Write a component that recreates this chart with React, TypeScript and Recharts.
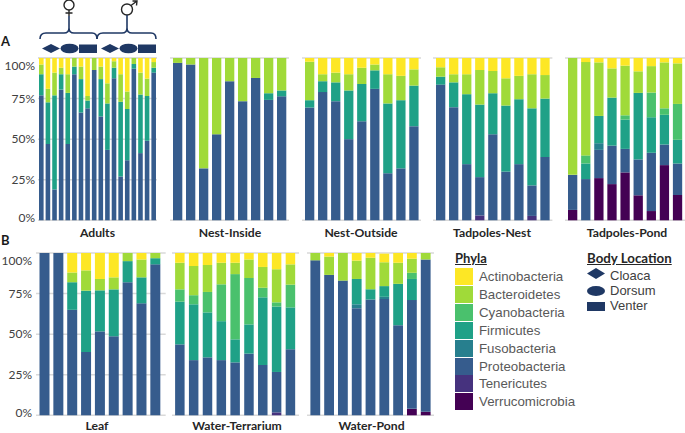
import { BarChart, Bar, CartesianGrid, XAxis, YAxis } from "recharts";

const phyla = [
  "Actinobacteria",
  "Bacteroidetes",
  "Cyanobacteria",
  "Firmicutes",
  "Fusobacteria",
  "Proteobacteria",
  "Tenericutes",
  "Verrucomicrobia"
];
const phylaColors = ["#FDE725", "#A0DA39", "#4AC16D", "#1FA187", "#277F8E", "#365C8D", "#46327E", "#440154"];
const bodyLocations = ["Cloaca", "Dorsum", "Venter"];
const percentTicks = [0, 25, 50, 75, 100];

// segment sizes in percent, one array per phylum per panel
const adultsProteo = [77, 47, 19, 80.5, 47, 90, 66.4, 69, 92.6, 64, 43.4, 87.5, 27, 37, 93.4, 41.4, 49, 91];
const adultsFirm = [13, 25.7, 58, 9.5, 31.5, 4.7, 20.6, 4.8, 0, 23, 28.6, 6.5, 46, 31.6, 2.9, 36.1, 27.6, 3];
const adultsBact = [6, 8.3, 14, 4, 11.5, 5.3, 7.7, 2.8, 7.4, 7.7, 12.4, 4, 17, 10.7, 3.7, 13.5, 10.7, 3.5];
const adultsActino = [4, 19, 9, 6, 10, 0, 5.3, 23.4, 0, 5.3, 15.6, 2, 10, 20.7, 0, 9, 12.7, 2.5];

const insideProteo = [97, 96, 32, 53, 85.7, 73.4, 87.7, 74.2, 76.4];
const insideFirm = [0, 0, 0, 0, 0, 0, 0, 4.1, 3.6];
const insideBact = [3, 4, 68, 47, 14.3, 26.6, 12.3, 21.7, 20];

const outsideProteo = [69.5, 79, 73.4, 50, 61, 81, 29, 32, 58];
const outsideFirm = [4.5, 6.7, 11.6, 30, 23, 11.4, 43, 42, 25];
const outsideBact = [23.7, 4.3, 6, 10, 10, 3.6, 18, 15, 10];
const outsideActino = [2.3, 10, 9, 10, 6, 4, 10, 11, 7];

const tadNestTener = [0, 0, 0, 3, 0, 0, 0, 2.7, 0];
const tadNestProteo = [83.6, 69.7, 34.6, 23.6, 53, 30, 34.6, 18.8, 39];
const tadNestFirm = [4.9, 15.3, 43.1, 44.7, 25.3, 40.7, 40, 47.5, 36];
const tadNestBact = [5.8, 5, 12.3, 21.3, 13.7, 16.8, 14.4, 21, 14.5];
const tadNestActino = [5.7, 10, 10, 7.4, 8, 12.5, 11, 10, 10.5];

const tadPondVerruco = [6.4, 0, 26, 22.3, 29.5, 15.4, 5.7, 34, 15.6];
const tadPondProteo = [21.6, 25.4, 17.4, 23.7, 14.5, 22.1, 35.9, 12.7, 19.4];
const tadPondFuso = [0, 0, 4.1, 0, 0, 0, 0, 0, 0];
const tadPondFirm = [0, 9.6, 16.8, 29.6, 18, 41, 21.9, 18.3, 14.6];
const tadPondCyano = [0, 5, 0, 0, 2.7, 0, 15.2, 4, 22.1];
const tadPondBact = [72, 57.5, 33, 18, 30.6, 13.3, 16.3, 28.3, 25];
const tadPondActino = [0, 2.5, 2.7, 6.4, 4.7, 8.2, 5, 2.7, 3.3];

const leafProteo = [100, 100, 65, 39, 51.7, 48.7, 82, 69, 93];
const leafFirm = [0, 0, 17, 37.8, 25.3, 28.9, 13, 16, 3.8];
const leafBact = [0, 0, 6, 12.5, 7, 7.4, 5, 11, 3.2];
const leafActino = [0, 0, 12, 10.7, 16, 15, 0, 4, 0];

const terrTener = [0, 0, 0, 0, 0, 0, 0, 1.8, 0];
const terrProteo = [43.7, 34, 35.7, 34, 32.6, 38, 31, 24.9, 40.7];
const terrFirm = [26.3, 34.4, 27.7, 24, 14.2, 18, 41.7, 40.3, 25.8];
const terrCyano = [7.6, 5.6, 12.6, 22.7, 40.2, 28.6, 5.9, 2.6, 14];
const terrBact = [16.4, 18, 16.6, 13.3, 7, 11.4, 12.8, 20.4, 12.5];
const terrActino = [6, 8, 7.4, 6, 6, 4, 8.6, 10, 7];

const pondVerruco = [0, 0, 0, 0, 0, 0, 0, 4, 2.2];
const pondProteo = [95.5, 86.5, 83, 66, 71.4, 71.6, 55.5, 67, 93.8];
const pondFuso = [0, 0, 0, 2.4, 0, 1.4, 0, 0, 0];
const pondFirm = [0, 0, 0, 15.6, 6.2, 6.6, 25.5, 13, 0];
const pondCyano = [0, 0, 0, 0, 0, 0, 0, 3.8, 0];
const pondBact = [4.5, 11.3, 17, 11.3, 19.4, 14.7, 13, 8.7, 4];
const pondActino = [0, 2.2, 0, 4.7, 3, 5.3, 6, 3.5, 0];

function buildRows(series: Record<string, number[]>) {
  const count = Object.values(series)[0].length;
  const rows = [];
  for (let i = 0; i < count; i++) {
    const row: Record<string, number | string> = { sample: `s${i + 1}` };
    phyla.forEach((name) => {
      row[name] = series[name] ? series[name][i] : 0;
    });
    rows.push(row);
  }
  return rows;
}

const NAVY = "#1F3864";
const TITLE_FONT = "Lato, sans-serif";
const LEGEND_FONT = "'Liberation Sans', Arial, sans-serif";

// the labels at both ends of the axis sit inside the plot in the original
function PercentTick({ y, payload, right }: any) {
  const shift = payload.value === 100 ? 8 : payload.value === 0 ? -2 : 0;
  return (
    <text x={right} y={y + shift} dy={4} textAnchor="end" fontFamily={TITLE_FONT} fontSize={12} fill="#404040">
      {payload.value}%
    </text>
  );
}

type PanelProps = {
  left: number;
  top: number;
  width: number;
  height: number;
  barSize: number;
  padding: { left: number; right: number };
  series: Record<string, number[]>;
  axisWidth?: number;
  tickRight?: number;
};

function Panel({ left, top, width, height, barSize, padding, series, axisWidth = 0, tickRight = 0 }: PanelProps) {
  return (
    <div style={{ position: "absolute", left: left - axisWidth, top: top - 8 }}>
      <BarChart
        width={width + axisWidth}
        height={height + 14}
        data={buildRows(series)}
        margin={{ top: 8, right: 0, bottom: 6, left: 0 }}
        barCategoryGap={0}
      >
        <CartesianGrid vertical={false} stroke="#D9D9D9" strokeWidth={1.5} />
        <XAxis
          dataKey="sample"
          tick={false}
          tickLine={false}
          height={0}
          padding={padding}
          axisLine={{ stroke: "#404040", strokeWidth: 2 }}
        />
        <YAxis
          domain={[0, 100]}
          ticks={percentTicks}
          width={axisWidth}
          axisLine={false}
          tickLine={false}
          interval={0}
          tick={axisWidth ? <PercentTick right={tickRight} /> : false}
        />
        {[...phyla].reverse().map((name) => (
          <Bar
            key={name}
            dataKey={name}
            stackId="phyla"
            barSize={barSize}
            fill={phylaColors[phyla.indexOf(name)]}
            isAnimationActive={false}
          />
        ))}
      </BarChart>
    </div>
  );
}

function Title({ text, center, y }: { text: string; center: number; y: number }) {
  return (
    <div
      style={{
        position: "absolute",
        left: center - 60,
        top: y - 6,
        width: 120,
        height: 12,
        lineHeight: "12px",
        textAlign: "center",
        fontFamily: TITLE_FONT,
        fontWeight: 700,
        fontSize: 12.2,
        color: "#262626"
      }}
    >
      {text}
    </div>
  );
}

function Annotation() {
  const stroke = { stroke: NAVY, fill: "none", strokeWidth: 1.6 };
  return (
    <svg width={170} height={56} style={{ position: "absolute", left: 0, top: 0 }}>
      <path d="M40 39 Q40 33 46 33 L64 33 Q69 33 69 28 Q69 33 74 33 L92 33 Q97 33 97 39" {...stroke} />
      <path d="M97 39 Q97 33 103 33 L122 33 Q127 33 127 28 Q127 33 132 33 L151 33 Q156 33 156 39" {...stroke} />
      <circle cx={69} cy={5} r={5} stroke="#262626" fill="none" strokeWidth={1.4} />
      <path d="M69 10 L69 16 M65.5 13 L72.5 13" stroke="#262626" fill="none" strokeWidth={1.4} />
      <path d="M69 16 L69 28" {...stroke} />
      <circle cx={127} cy={9.5} r={5.5} stroke="#262626" fill="none" strokeWidth={1.4} />
      <path d="M131 5.5 L137 1 M132.5 1 L137 1 L136.5 5.5" stroke="#262626" fill="none" strokeWidth={1.4} />
      <path d="M127 15 L127 28" {...stroke} />
      {[42, 101].map((x) => (
        <g key={x} fill={NAVY}>
          <path d={`M${x} 48.5 L${x + 9} 44 L${x + 18} 48.5 L${x + 9} 53 Z`} />
          <ellipse cx={x + 27.5} cy={48.5} rx={9} ry={4.8} />
          <rect x={x + 37} y={44.5} width={18} height={8.5} />
        </g>
      ))}
    </svg>
  );
}

function PhylaLegend() {
  return (
    <div style={{ position: "absolute", left: 455, top: 250, fontFamily: LEGEND_FONT }}>
      <div
        style={{
          fontFamily: TITLE_FONT,
          fontWeight: 700,
          fontSize: 13,
          color: "#262626",
          textDecoration: "underline",
          lineHeight: "16px"
        }}
      >
        Phyla
      </div>
      {phyla.map((name, i) => (
        <div key={name} style={{ position: "absolute", top: 18 + i * 17.9, left: 0, width: 130, height: 17 }}>
          <div style={{ position: "absolute", left: 0, top: 0, width: 18, height: 17, background: phylaColors[i] }} />
          <div style={{ position: "absolute", left: 24, top: 0, lineHeight: "17px", fontSize: 13.3, color: "#595959" }}>
            {name}
          </div>
        </div>
      ))}
    </div>
  );
}

function BodyLegend() {
  return (
    <div style={{ position: "absolute", left: 587, top: 250, width: 98 }}>
      <div
        style={{
          fontFamily: TITLE_FONT,
          fontWeight: 700,
          fontSize: 13.3,
          color: "#262626",
          textDecoration: "underline",
          lineHeight: "16px"
        }}
      >
        Body Location
      </div>
      <svg width={18} height={48} style={{ position: "absolute", left: 0, top: 18 }}>
        <path d="M0 5.5 L9 0 L18 5.5 L9 11 Z" fill={NAVY} />
        <ellipse cx={9} cy={23} rx={9} ry={5} fill={NAVY} />
        <rect x={0} y={34} width={18} height={9} fill={NAVY} />
      </svg>
      {bodyLocations.map((name, i) => (
        <div
          key={name}
          style={{
            position: "absolute",
            left: 23,
            top: 18 + i * 15,
            lineHeight: "16px",
            fontFamily: LEGEND_FONT,
            fontSize: 13,
            color: "#404040"
          }}
        >
          {name}
        </div>
      ))}
    </div>
  );
}

const rowATop = 57.7;
const rowBTop = 252.7;
const rowHeight = 162.3;

export default function App() {
  return (
    <div style={{ position: "absolute", left: 0, top: 0, width: 685, height: 433, overflow: "hidden", background: "#fff" }}>
      <Panel
        left={38}
        top={rowATop}
        width={119}
        height={rowHeight}
        barSize={4.6}
        padding={{ left: 0, right: 0 }}
        axisWidth={38}
        tickRight={35}
        series={{ Proteobacteria: adultsProteo, Firmicutes: adultsFirm, Bacteroidetes: adultsBact, Actinobacteria: adultsActino }}
      />
      <Panel
        left={170}
        top={rowATop}
        width={119}
        height={rowHeight}
        barSize={9.3}
        padding={{ left: 1, right: 1 }}
        series={{ Proteobacteria: insideProteo, Firmicutes: insideFirm, Bacteroidetes: insideBact }}
      />
      <Panel
        left={301.7}
        top={rowATop}
        width={119.3}
        height={rowHeight}
        barSize={9.3}
        padding={{ left: 1, right: 1 }}
        series={{ Proteobacteria: outsideProteo, Firmicutes: outsideFirm, Bacteroidetes: outsideBact, Actinobacteria: outsideActino }}
      />
      <Panel
        left={433.3}
        top={rowATop}
        width={119.4}
        height={rowHeight}
        barSize={9.3}
        padding={{ left: 1, right: 1 }}
        series={{
          Tenericutes: tadNestTener,
          Proteobacteria: tadNestProteo,
          Firmicutes: tadNestFirm,
          Bacteroidetes: tadNestBact,
          Actinobacteria: tadNestActino
        }}
      />
      <Panel
        left={565}
        top={rowATop}
        width={120}
        height={rowHeight}
        barSize={9.3}
        padding={{ left: 1, right: 1 }}
        series={{
          Verrucomicrobia: tadPondVerruco,
          Proteobacteria: tadPondProteo,
          Fusobacteria: tadPondFuso,
          Firmicutes: tadPondFirm,
          Cyanobacteria: tadPondCyano,
          Bacteroidetes: tadPondBact,
          Actinobacteria: tadPondActino
        }}
      />
      <Panel
        left={36}
        top={rowBTop}
        width={129.7}
        height={rowHeight}
        barSize={10}
        padding={{ left: 1.5, right: 3.5 }}
        axisWidth={36}
        tickRight={32}
        series={{ Proteobacteria: leafProteo, Firmicutes: leafFirm, Bacteroidetes: leafBact, Actinobacteria: leafActino }}
      />
      <Panel
        left={171.7}
        top={rowBTop}
        width={127.3}
        height={rowHeight}
        barSize={9.5}
        padding={{ left: 1.1, right: 1.8 }}
        series={{
          Tenericutes: terrTener,
          Proteobacteria: terrProteo,
          Firmicutes: terrFirm,
          Cyanobacteria: terrCyano,
          Bacteroidetes: terrBact,
          Actinobacteria: terrActino
        }}
      />
      <Panel
        left={306.7}
        top={rowBTop}
        width={127.3}
        height={rowHeight}
        barSize={9.8}
        padding={{ left: 1.4, right: 1.7 }}
        series={{
          Verrucomicrobia: pondVerruco,
          Proteobacteria: pondProteo,
          Fusobacteria: pondFuso,
          Firmicutes: pondFirm,
          Cyanobacteria: pondCyano,
          Bacteroidetes: pondBact,
          Actinobacteria: pondActino
        }}
      />

      <Title text="Adults" center={97.5} y={233} />
      <Title text="Nest-Inside" center={230} y={233} />
      <Title text="Nest-Outside" center={361} y={233} />
      <Title text="Tadpoles-Nest" center={492} y={233} />
      <Title text="Tadpoles-Pond" center={627} y={233} />
      <Title text="Leaf" center={97} y={426} />
      <Title text="Water-Terrarium" center={237} y={426} />
      <Title text="Water-Pond" center={371.5} y={426} />

      <div style={{ position: "absolute", left: 1, top: 33, fontFamily: TITLE_FONT, fontWeight: 700, fontSize: 13, color: "#1a1a1a" }}>A</div>
      <div style={{ position: "absolute", left: 1, top: 232, fontFamily: TITLE_FONT, fontWeight: 700, fontSize: 13, color: "#1a1a1a" }}>B</div>

      <Annotation />
      <PhylaLegend />
      <BodyLegend />
    </div>
  );
}
